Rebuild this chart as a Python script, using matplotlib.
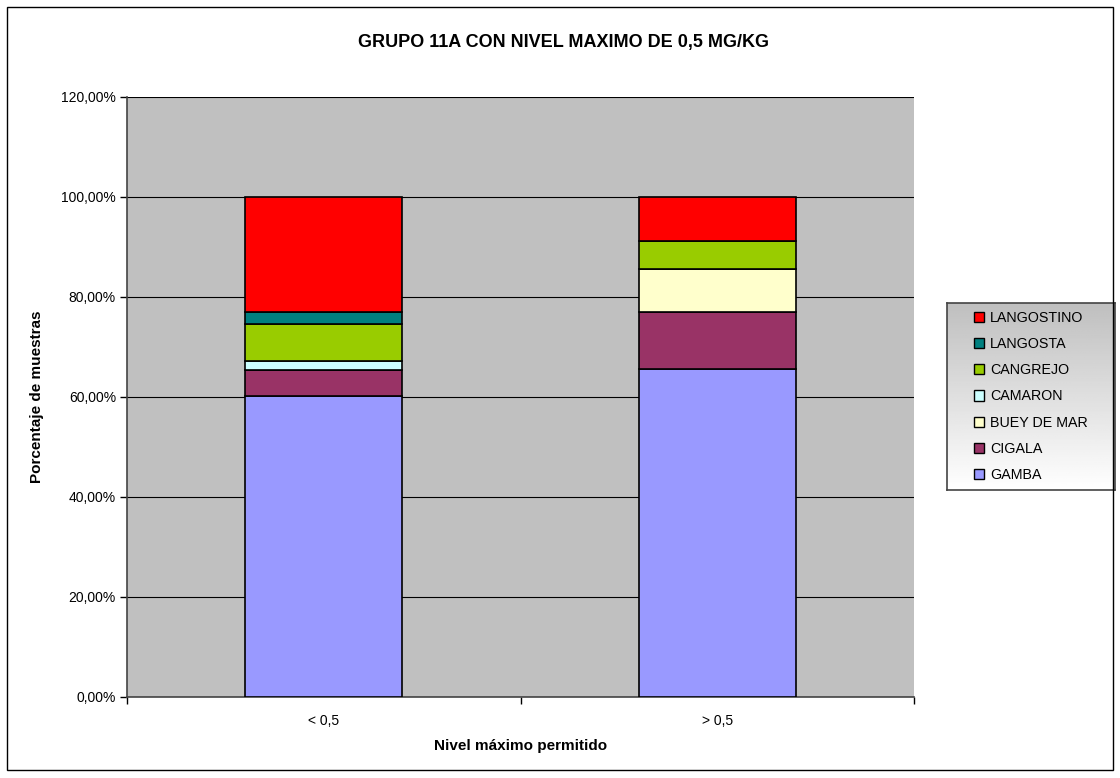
import numpy as np
import matplotlib
matplotlib.use("Agg")
import matplotlib.pyplot as plt
from matplotlib.patches import Patch, Rectangle
from matplotlib.ticker import FuncFormatter

plt.rcParams['font.family'] = ['Liberation Sans', 'DejaVu Sans']

categorias = ["< 0,5", "> 0,5"]
especies = ["GAMBA", "CIGALA", "BUEY DE MAR", "CAMARON", "CANGREJO", "LANGOSTA", "LANGOSTINO"]
colores = ["#9999ff", "#993366", "#ffffcc", "#ccffff", "#99cc00", "#008080", "#ff0000"]
# porcentajes por especie (< 0,5 , > 0,5)
gamba = [60.2, 65.6]
cigala = [5.3, 11.4]
buey = [0.0, 8.6]
camaron = [1.7, 0.0]
cangrejo = [7.5, 5.7]
langosta = [2.3, 0.0]
langostino = [23.0, 8.7]
valores = [gamba, cigala, buey, camaron, cangrejo, langosta, langostino]

fig = plt.figure(figsize=(11.2, 7.78), dpi=100)
fig.patch.set_facecolor("white")
# marco exterior
fig.add_artist(Rectangle((7 / 1120, 1 - 770 / 778), 1106 / 1120, 763 / 778,
                         transform=fig.transFigure, fill=False, edgecolor="black", lw=1))

ax = fig.add_axes([127 / 1120, 81 / 778, 787 / 1120, 600 / 778])
ax.set_facecolor("#c0c0c0")

x = np.arange(len(categorias))
base = np.zeros(len(categorias))
for nombre, vals, col in zip(especies, valores, colores):
    vals = np.array(vals)
    ax.bar(x, vals, 0.4, bottom=base, color=col, edgecolor="black", linewidth=1.2,
           label=nombre, zorder=3)
    base += vals

ax.set_xlim(-0.5, 1.5)
ax.set_ylim(0, 120)
ax.set_yticks(np.arange(0, 121, 20))
ax.yaxis.set_major_formatter(FuncFormatter(lambda v, p: ("%.2f%%" % v).replace(".", ",")))
ax.grid(axis="y", color="black", lw=0.8, zorder=1)
ax.set_xticks([-0.5, 0.5, 1.5])
ax.set_xticklabels([])
ax.set_xticks(x, minor=True)
ax.set_xticklabels(categorias, minor=True)
ax.tick_params(axis="x", which="minor", length=0, pad=12, labelsize=10)
ax.tick_params(axis="x", which="major", length=5, width=1, color="black")
ax.tick_params(axis="y", length=5, width=1, labelsize=10, pad=3)
for s in ["top", "right"]:
    ax.spines[s].set_visible(False)
for s in ["left", "bottom"]:
    ax.spines[s].set_color("#444444")
    ax.spines[s].set_linewidth(1.2)

ax.set_xlabel("Nivel máximo permitido", fontsize=11, fontweight="bold", labelpad=8)
ax.set_ylabel("Porcentaje de muestras", fontsize=11, fontweight="bold", va="center")
ax.yaxis.set_label_coords(-0.114, 0.5)
fig.text(563 / 1120, 1 - 42 / 778, "GRUPO 11A CON NIVEL MAXIMO DE 0,5 MG/KG",
         ha="center", va="center", fontsize=13, fontweight="bold")

# leyenda con fondo degradado
lax = fig.add_axes([947 / 1120, 1 - 490 / 778, 168 / 1120, 187 / 778])
grad = np.linspace(0.75, 1.0, 100).reshape(-1, 1)
lax.imshow(grad, cmap="gray", vmin=0, vmax=1, aspect="auto", extent=[0, 1, 0, 1])
lax.set_xticks([])
lax.set_yticks([])
for s in lax.spines.values():
    s.set_color("#444444")
    s.set_linewidth(1.2)
handles = [Patch(facecolor=c, edgecolor="black", label=n) for n, c in zip(especies, colores)]
handles = handles[::-1]
leg = lax.legend(handles=handles, loc="center", frameon=False, fontsize=10.3,
                 handlelength=0.7, handleheight=0.7, handletextpad=0.4, labelspacing=0.85)

fig.savefig("out.png", dpi=100)
